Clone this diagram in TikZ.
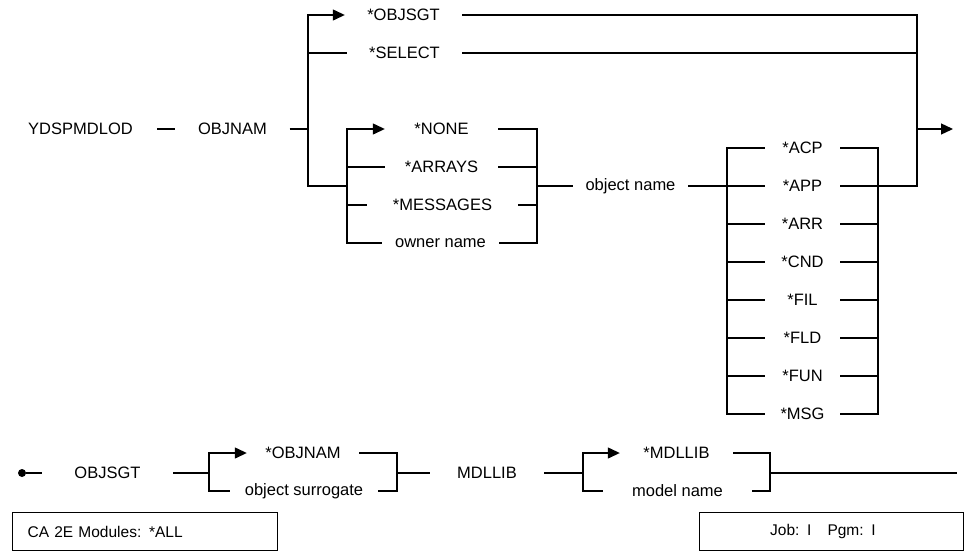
\documentclass[tikz,border=0pt]{standalone}
\usepackage{fontspec}
\setmainfont{Liberation Sans}
\usetikzlibrary{arrows.meta}
\tikzset{
  rr/.style={line width=1.3pt},
  rarr/.style={rr, -{Triangle[length=12pt,width=11pt]}},
  txt/.style={inner sep=0pt, minimum height=20pt, font=\fontsize{16.5}{18}\selectfont},
  infobox/.style={draw, line width=1.3pt, anchor=north west, minimum height=38pt, inner ysep=0pt, align=left, font=\fontsize{15.5}{17}\selectfont},
}
\begin{document}
\begin{tikzpicture}[x=1pt,y=-1pt]
    \useasboundingbox (0,0) rectangle (964,552);
    \node[txt, minimum width=153pt] (ydsp) at (80.5,129) {YDSPMDLOD};
    \node[txt, minimum width=114pt] (objnam) at (232.5,129) {OBJNAM};
    \node[txt, minimum width=117pt] (objsgt) at (403.5,15) {*OBJSGT};
    \node[txt, minimum width=115pt] (select) at (404.5,53) {*SELECT};
    \node[txt, minimum width=113pt] (none) at (441.5,129) {*NONE};
    \node[txt, minimum width=113pt] (arrays) at (441.5,167) {*ARRAYS};
    \node[txt, minimum width=151pt] (messages) at (442.5,205) {*MESSAGES};
    \node[txt, minimum width=117pt] (owner) at (440.5,243) {owner name};
    \node[txt, minimum width=115pt] (objname) at (630.5,186) {object name};
    \coordinate (a0) at (308,129);
    \coordinate (a1) at (308,15);
    \coordinate (a2) at (308,53);
    \coordinate (a3) at (308,186);
    \coordinate (b1) at (347,129);
    \coordinate (b2) at (347,167);
    \coordinate (b3) at (347,205);
    \coordinate (b4) at (347,243);
    \coordinate (bm) at (347,186);
    \coordinate (c1) at (537,129);
    \coordinate (c2) at (537,167);
    \coordinate (c3) at (537,205);
    \coordinate (c4) at (537,243);
    \coordinate (cm) at (537,186);
    \coordinate (e0) at (917,129);
    \coordinate (e1) at (917,15);
    \coordinate (e2) at (917,53);
    \coordinate (e3) at (917,186);
    \coordinate (out) at (953,129);
    \foreach \name [count=\i from 0] in {ACP,APP,ARR,CND,FIL,FLD,FUN,MSG}
    {
    \node[txt, minimum width=75pt] (\name) at (802.5,148+38*\i) {*\name};
    \coordinate (l\name) at (727,148+38*\i);
    \coordinate (r\name) at (878,148+38*\i);
    }
    \foreach \name in {APP,ARR,CND,FIL,FLD,FUN}
    {
    \draw[rr] (l\name) -- (\name.west);
    \draw[rr] (\name.east) -- (r\name);
    }
    \draw[rr] (ACP.west) -- (lACP) -- (lMSG) -- (MSG.west);
    \draw[rr] (ACP.east) -- (rACP) -- (rMSG) -- (MSG.east);
    \draw[rr] (ydsp) -- (objnam);
    \draw[rr] (objnam.east) -- (a0);
    \draw[rarr] (bm) -- (a3) -- (a1) -- (objsgt.west);
    \draw[rr] (a2) -- (select.west);
    \draw[rarr] (owner.west) -- (b4) -- (b1) -- (none.west);
    \draw[rr] (b2) -- (arrays.west);
    \draw[rr] (b3) -- (messages.west);
    \draw[rr] (none.east) -- (c1) -- (c4) -- (owner.east);
    \draw[rr] (arrays.east) -- (c2);
    \draw[rr] (messages.east) -- (c3);
    \draw[rr] (cm) -- (objname.west);
    \draw[rr] (objname.east) -- (APP.west);
    \draw[rr] (objsgt.east) -- (e1) -- (e3) -- (APP.east);
    \draw[rr] (select.east) -- (e2);
    \draw[rarr] (e0) -- (out);
    \node[circle, fill, inner sep=0pt, minimum size=8pt] (start) at (22,473) {};
    \node[txt, minimum width=131pt] (sgt) at (107.5,473) {OBJSGT};
    \node[txt, minimum width=112pt] (objnamB) at (303,453) {*OBJNAM};
    \node[txt, minimum width=148pt] (surr) at (304,491) {object surrogate};
    \node[txt, minimum width=114pt] (mdllib) at (487,473) {MDLLIB};
    \node[txt, minimum width=113pt] (mdlstar) at (676.5,453) {*MDLLIB};
    \node[txt, minimum width=149pt] (model) at (677.5,491) {model name};
    \coordinate (f0) at (209,473);
    \coordinate (f1) at (209,453);
    \coordinate (f2) at (209,491);
    \coordinate (g0) at (397,473);
    \coordinate (g1) at (397,453);
    \coordinate (g2) at (397,491);
    \coordinate (h0) at (583,473);
    \coordinate (h1) at (583,453);
    \coordinate (h2) at (583,491);
    \coordinate (k0) at (770,473);
    \coordinate (k1) at (770,453);
    \coordinate (k2) at (770,491);
    \coordinate (end) at (957,473);
    \draw[rr] (start) -- (sgt.west);
    \draw[rr] (sgt.east) -- (f0);
    \draw[rarr] (surr.west) -- (f2) -- (f1) -- (objnamB.west);
    \draw[rr] (objnamB.east) -- (g1) -- (g2) -- (surr.east);
    \draw[rr] (g0) -- (mdllib.west);
    \draw[rr] (mdllib.east) -- (h0);
    \draw[rarr] (model.west) -- (h2) -- (h1) -- (mdlstar.west);
    \draw[rr] (mdlstar.east) -- (k1) -- (k2) -- (model.east);
    \draw[rr] (k0) -- (end);
    \node[infobox, text width=235pt, inner xsep=15pt] (modbox) at (12,512) {CA 2E Modules: *ALL};
    \node[infobox, text width=123pt, inner xsep=70.5pt] (jobbox) at (699,512) {Job: I\hspace{16pt}Pgm: I};
\end{tikzpicture}
\end{document}
